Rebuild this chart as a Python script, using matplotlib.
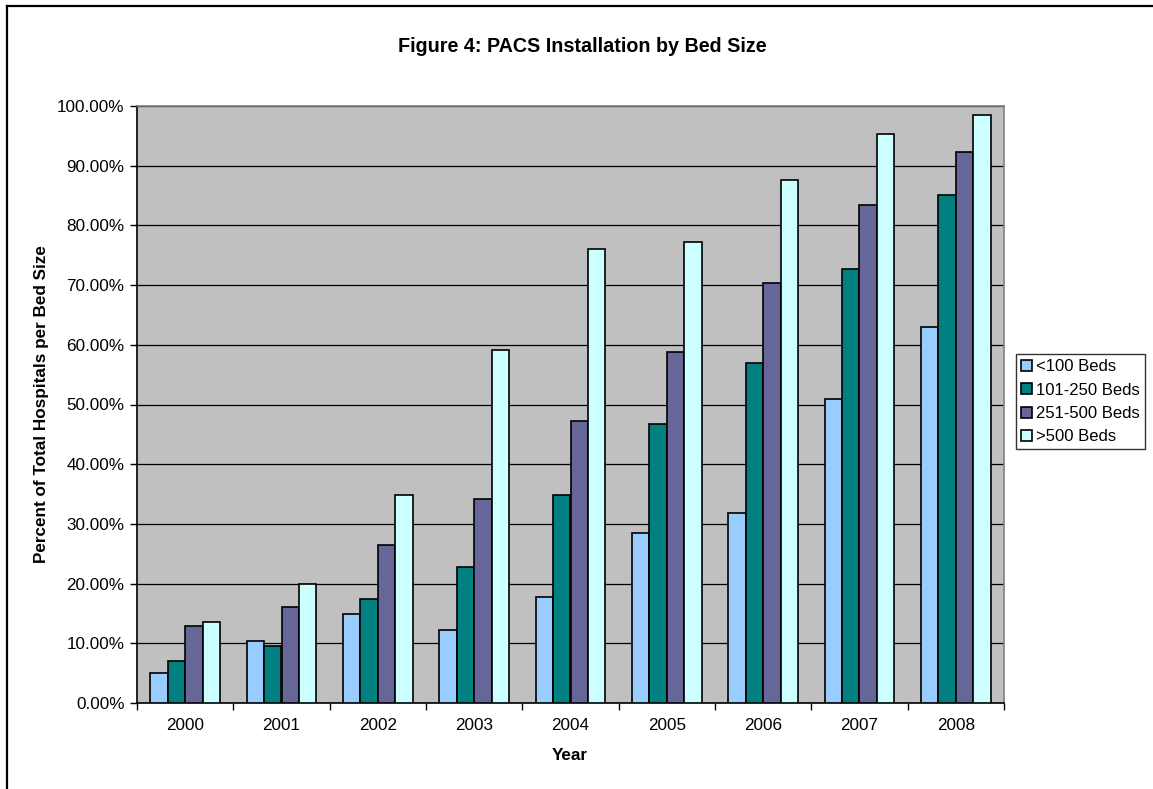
import matplotlib
matplotlib.use("Agg")
import matplotlib.pyplot as plt
from matplotlib.lines import Line2D
from matplotlib.ticker import FixedLocator, FuncFormatter
import numpy as np

plt.rcParams['font.family'] = ['Liberation Sans', 'DejaVu Sans']

years = ['2000', '2001', '2002', '2003', '2004', '2005', '2006', '2007', '2008']
series_names = ['<100 Beds', '101-250 Beds', '251-500 Beds', '>500 Beds']
under_100 = [5.0, 10.4, 14.9, 12.2, 17.8, 28.4, 31.8, 50.9, 63.0]
beds_101_250 = [7.0, 9.5, 17.4, 22.7, 34.8, 46.7, 57.0, 72.7, 85.1]
beds_251_500 = [12.9, 16.1, 26.4, 34.2, 47.3, 58.8, 70.4, 83.4, 92.3]
over_500 = [13.6, 20.0, 34.8, 59.2, 76.1, 77.3, 87.6, 95.3, 98.5]
colors = ['#99CCFF', '#008080', '#666699', '#CCFFFF']

W, H = 1153, 789
fig = plt.figure(figsize=(W / 100, H / 100), dpi=100)
fig.patch.set_facecolor('white')

# Outer chart frame (top and left edges)
fig.add_artist(Line2D([6.5 / W, 1.0], [1 - 5.5 / H, 1 - 5.5 / H],
                      transform=fig.transFigure, color='black', lw=1.6))
fig.add_artist(Line2D([6.5 / W, 6.5 / W], [0.0, 1 - 5.5 / H],
                      transform=fig.transFigure, color='black', lw=1.6))

left, right, top, bottom = 137, 1004, 106, 703
ax = fig.add_axes([left / W, 1 - bottom / H, (right - left) / W, (bottom - top) / H])
ax.set_facecolor('#C0C0C0')

series = [under_100, beds_101_250, beds_251_500, over_500]
x = np.arange(len(years))
bw = 0.18
for k, (vals, col, name) in enumerate(zip(series, colors, series_names)):
    ax.bar(x + (k - 1.5) * bw, vals, width=bw, color=col, edgecolor='black',
           linewidth=1.2, label=name, zorder=3)

ax.set_xlim(-0.5, len(years) - 0.5)
ax.set_ylim(0, 100)

ax.yaxis.set_major_locator(FixedLocator(np.arange(0, 101, 10)))
ax.yaxis.set_major_formatter(FuncFormatter(lambda v, p: f'{v:.2f}%'))
ax.grid(axis='y', color='black', lw=0.9, zorder=1)
ax.set_axisbelow(True)

fs = 12.3
ax.xaxis.set_major_locator(FixedLocator(np.arange(-0.5, len(years), 1.0)))
ax.xaxis.set_major_formatter(FuncFormatter(lambda v, p: ''))
ax.xaxis.set_minor_locator(FixedLocator(x))
ax.set_xticklabels(years, minor=True)
ax.tick_params(axis='x', which='minor', length=0, pad=11, labelsize=fs)
ax.tick_params(axis='x', which='major', length=5, width=1, direction='out', color='black')
ax.tick_params(axis='y', length=5, width=1, direction='out', labelsize=fs, pad=4)

for s in ['top', 'right']:
    ax.spines[s].set_color('#808080')
    ax.spines[s].set_linewidth(1.2)
for s in ['left', 'bottom']:
    ax.spines[s].set_color('black')
    ax.spines[s].set_linewidth(1.2)

fig.text(582 / W, 1 - 47 / H, 'Figure 4: PACS Installation by Bed Size',
         ha='center', va='center', fontsize=14.2, fontweight='bold')
fig.text(42 / W, 1 - 404 / H, 'Percent of Total Hospitals per Bed Size',
         ha='center', va='center', rotation=90, fontsize=fs, fontweight='bold')
fig.text(570 / W, 1 - 755 / H, 'Year', ha='center', va='center',
         fontsize=fs, fontweight='bold')

leg = fig.legend(loc='upper left', bbox_to_anchor=(1016 / W, 1 - 354.3 / H),
                 fontsize=12, frameon=True, fancybox=False, shadow=False,
                 handlelength=0.65, handleheight=0.65, handletextpad=0.25,
                 borderpad=0.3, labelspacing=0.5, borderaxespad=0)
leg.get_frame().set_edgecolor('black')
leg.get_frame().set_linewidth(1.0)

fig.savefig('out.png', dpi=100)
